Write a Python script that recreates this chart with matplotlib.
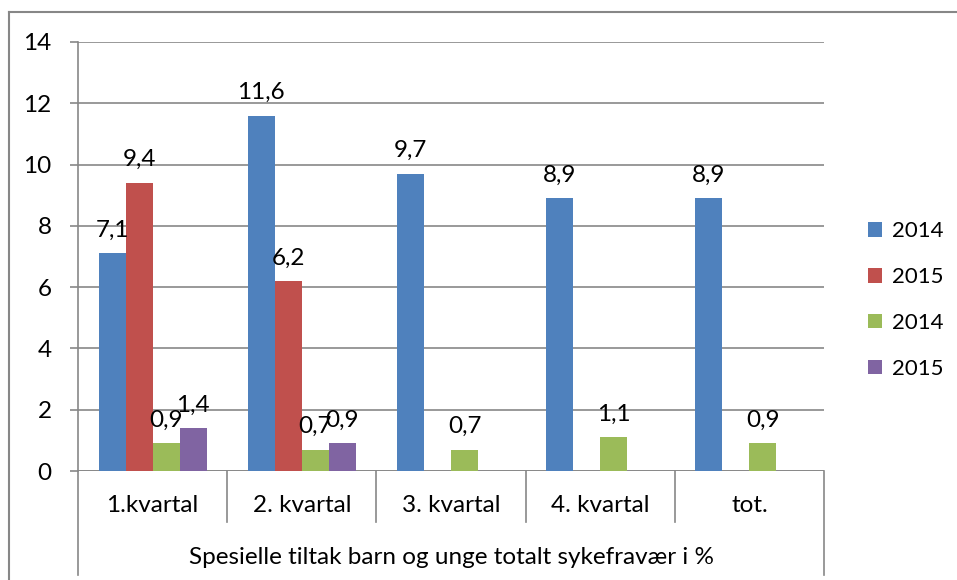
import numpy as np
import matplotlib.pyplot as plt
from matplotlib.lines import Line2D

categories = ['1.kvartal', '2. kvartal', '3. kvartal', '4. kvartal', 'tot.']
series_names = ['2014', '2015', '2014', '2015']
s1 = [7.1, 11.6, 9.7, 8.9, 8.9]
s2 = [9.4, 6.2, np.nan, np.nan, np.nan]
s3 = [0.9, 0.7, 0.7, 1.1, 0.9]
s4 = [1.4, 0.9, np.nan, np.nan, np.nan]
group_label = 'Spesielle tiltak barn og unge totalt sykefravær i %'
yticks = [0, 2, 4, 6, 8, 10, 12, 14]

colors = ['#4F81BD', '#C0504D', '#9BBB59', '#8064A2']
grid_c = '#878787'

plt.rcParams['font.family'] = ['Lato', 'DejaVu Sans']
fs = 17.5

fig = plt.figure(figsize=(9.57, 5.8), dpi=100)
W, H = 957, 580
ax = fig.add_axes([78 / W, 1 - 471 / H, (824 - 78) / W, (471 - 42) / H])

x = np.arange(len(categories))
bw = 0.181
handles = []
for k, vals in enumerate([s1, s2, s3, s4]):
    pos = x + (k - 1.5) * bw
    bars = ax.bar(pos, vals, bw, color=colors[k], zorder=3)
    handles.append(bars)
    for p, v in zip(pos, vals):
        if np.isnan(v):
            continue
        ax.annotate(f'{v:.1f}'.replace('.', ','), (p, v), xytext=(0, 12),
                    textcoords='offset points', ha='center', va='baseline',
                    fontsize=fs, zorder=4)

ax.set_xlim(-0.5, len(categories) - 0.5)
ax.set_ylim(0, 14)
ax.set_yticks(yticks)
ax.yaxis.grid(True, color=grid_c, lw=1.2, zorder=0)
ax.tick_params(axis='y', length=6, width=1.2, color=grid_c, pad=13, labelsize=fs)
ax.set_xticks([])
for s in ['top', 'right', 'bottom']:
    ax.spines[s].set_visible(False)
ax.spines['left'].set_color(grid_c)
ax.spines['left'].set_linewidth(1.2)
ax.axhline(0, color=grid_c, lw=1.2, zorder=2)

# category axis separators and labels (below plot area)
px = 14 / (471 - 42)
ycat = -(522 - 471) * px
ygrp = -(575 - 471) * px
for i in range(len(categories) + 1):
    xe = i - 0.5
    yb = ygrp if i in (0, len(categories)) else ycat
    ax.add_line(Line2D([xe, xe], [0, yb], color=grid_c, lw=1.2, clip_on=False))
for i, c in enumerate(categories):
    ax.text(i, -(505 - 471) * px, c, ha='center', va='center',
            fontsize=fs, clip_on=False)
ax.text((len(categories) - 1) / 2, -(557 - 471) * px, group_label,
        ha='center', va='center', fontsize=fs, clip_on=False)

# outer chart border
fig.add_artist(Line2D([9 / W, 9 / W], [0, 1 - 12 / H], color=grid_c, lw=1.5))
fig.add_artist(Line2D([9 / W, 1], [1 - 12 / H, 1 - 12 / H], color=grid_c, lw=1.5))

fig.legend(handles, series_names, loc='center left',
           bbox_to_anchor=(868 / W, 1 - 300 / H), frameon=False, fontsize=16,
           borderpad=0, borderaxespad=0,
           handlelength=0.63, handleheight=0.63, handletextpad=0.45,
           labelspacing=1.16)

fig.savefig('out.png', dpi=100)
